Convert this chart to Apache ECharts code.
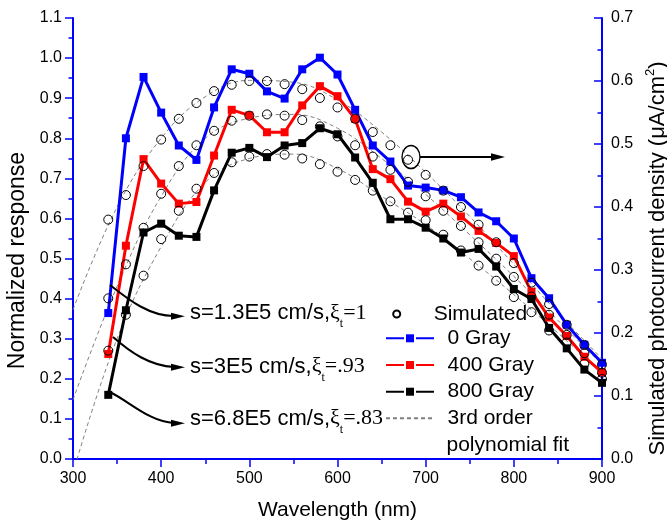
<!DOCTYPE html>
<html>
<head>
<meta charset="utf-8">
<script src="https://cdn.jsdelivr.net/npm/echarts@6/dist/echarts.min.js"></script>
<style>html,body{margin:0;padding:0;background:#fff}#c{width:667px;height:526px}</style>
</head>
<body>
<div id="c"></div>
<script>
// ---- data ----
const wavelengths = [340,360,380,400,420,440,460,480,500,520,540,560,580,600,620,640,660,680,700,720,740,760,780,800,820,840,860,880,900];
// Normalized response (left axis)
const gray0   = [0.364,0.800,0.953,0.864,0.782,0.746,0.877,0.972,0.961,0.917,0.899,0.972,1.001,0.959,0.871,0.782,0.742,0.682,0.677,0.670,0.653,0.615,0.593,0.550,0.451,0.401,0.335,0.285,0.240];
const gray400 = [0.262,0.532,0.748,0.687,0.637,0.641,0.757,0.871,0.857,0.815,0.815,0.882,0.930,0.905,0.848,0.723,0.698,0.642,0.617,0.637,0.605,0.569,0.539,0.506,0.417,0.353,0.307,0.255,0.216];
const gray800 = [0.160,0.371,0.565,0.587,0.557,0.554,0.670,0.764,0.776,0.753,0.782,0.788,0.825,0.810,0.752,0.689,0.598,0.598,0.577,0.550,0.515,0.524,0.480,0.424,0.399,0.327,0.276,0.223,0.190];
// Simulated photocurrent density (right axis, uA/cm2)
const simS1 = [0.380,0.419,0.465,0.507,0.540,0.565,0.584,0.594,0.600,0.600,0.595,0.587,0.573,0.558,0.540,0.519,0.498,0.475,0.451,0.426,0.400,0.372,0.344,0.311,0.280,0.246,0.213,0.181,0.150];
const simS2 = [0.255,0.309,0.367,0.421,0.465,0.498,0.521,0.537,0.545,0.547,0.545,0.538,0.528,0.512,0.498,0.480,0.459,0.440,0.417,0.394,0.370,0.344,0.318,0.289,0.258,0.229,0.197,0.168,0.137];
const simS3 = [0.172,0.229,0.291,0.349,0.394,0.429,0.454,0.471,0.480,0.484,0.483,0.477,0.468,0.456,0.443,0.426,0.409,0.391,0.379,0.356,0.331,0.307,0.283,0.257,0.233,0.204,0.185,0.151,0.127];
// 3rd order polynomial fit curves (right axis)
const fitX  = [300,350,400,450,500,550,600,650,700,750,800,850,900];
const fitS1 = [0.237,0.400,0.509,0.575,0.601,0.598,0.570,0.519,0.455,0.385,0.309,0.232,0.159];
const fitS2 = [0.094,0.274,0.417,0.509,0.541,0.547,0.525,0.477,0.420,0.356,0.290,0.220,0.150];
const fitS3 = [-0.022,0.191,0.337,0.439,0.477,0.484,0.461,0.417,0.372,0.318,0.261,0.200,0.137];
const seriesNames = ['0 Gray','400 Gray','800 Gray'];
const simName = 'Simulated';
const fitName = '3rd order polynomial fit';

// ---- chart ----
const BLUE = '#0000ff';
const SANS = 'Liberation Sans, Arial, sans-serif';
const SERIF = 'Liberation Serif, Times New Roman, serif';
const zip = (xs, ys) => xs.map((x, i) => [x, ys[i]]);
const chart = echarts.init(document.getElementById('c'), null, {renderer: 'canvas'});

const tickLbl = {color: '#000', fontSize: 16, fontFamily: SANS};
const axLine = {show: true, lineStyle: {color: BLUE, width: 2}};

function lineSeries(name, data, color) {
  return {
    name, type: 'line', data: zip(wavelengths, data), xAxisIndex: 0, yAxisIndex: 0,
    symbol: 'rect', symbolSize: 8, showSymbol: true, showAllSymbol: true,
    lineStyle: {color, width: 3}, itemStyle: {color}, z: 3, silent: true
  };
}
function fitSeries(data) {
  return {
    name: fitName, type: 'line', data: zip(fitX, data), xAxisIndex: 0, yAxisIndex: 1,
    smooth: 0.4, symbol: 'none', clip: true,
    lineStyle: {color: '#808080', width: 1, type: [4, 3]}, itemStyle: {color: '#808080'}, z: 2, silent: true
  };
}
function simSeries(data) {
  return {
    name: simName, type: 'scatter', data: zip(wavelengths, data), xAxisIndex: 0, yAxisIndex: 1,
    symbol: 'circle', symbolSize: 9,
    itemStyle: {color: 'rgba(255,255,255,0)', borderColor: '#000', borderWidth: 1, opacity: 1}, z: 4, silent: true
  };
}

function arrow(p0, c1, c2, p3, tip) {
  return [
    {type: 'bezierCurve', shape: {x1: p0[0], y1: p0[1], cpx1: c1[0], cpy1: c1[1], cpx2: c2[0], cpy2: c2[1], x2: p3[0], y2: p3[1]},
     style: {stroke: '#000', lineWidth: 2, fill: 'none'}, z: 10},
    {type: 'polygon', shape: {points: [tip, [tip[0] - 14, tip[1] - 3.5], [tip[0] - 14, tip[1] + 3.5]]},
     style: {fill: '#000'}, z: 10}
  ];
}
const richAnn = {
  a: {fontSize: 22, fontFamily: SANS, lineHeight: 34, color: '#000'},
  g: {fontSize: 22, fontFamily: SERIF, lineHeight: 34, color: '#000'},
  t: {fontSize: 12, fontFamily: SERIF, lineHeight: 12, verticalAlign: 'bottom', color: '#000'}
};
function annText(x, y, s, v) {
  return {type: 'text', x, y, z: 10,
    style: {text: '{a|' + s + '}{g|ξ}{t|t}{g|' + v + '}', rich: richAnn, verticalAlign: 'middle', align: 'left'}};
}
const legText = {fontSize: 21, lineHeight: 21, fontFamily: SANS, color: '#000'};

const option = {
  animation: false,
  backgroundColor: '#fff',
  grid: {left: 73, right: 65, top: 18, bottom: 67, containLabel: false, outerBoundsMode: 'none'},
  legend: [
    {data: [simName], left: 392.2, top: 303.5, padding: 0, itemWidth: 7, itemHeight: 7, selectedMode: false,
     textStyle: Object.assign({padding: [0, 0, 0, 28.5]}, legText)},
    {data: seriesNames, orient: 'vertical', left: 385, top: 327.8, padding: 0, itemWidth: 48, itemHeight: 10, itemGap: 5.7, selectedMode: false,
     lineStyle: {type: [18, 12]},
     textStyle: Object.assign({padding: [0, 0, 0, 8.5]}, legText)},
    {data: [fitName], left: 385, top: 407.8, padding: 0, itemWidth: 48, itemHeight: 10, selectedMode: false,
     itemStyle: {opacity: 0},
     formatter: () => '3rd order',
     textStyle: Object.assign({padding: [0, 0, 0, 8.5]}, legText)}
  ],
  xAxis: [
    {type: 'value', position: 'bottom', min: 300, max: 900, interval: 100,
     name: 'Wavelength (nm)', nameLocation: 'middle', nameGap: 41,
     nameTextStyle: {fontSize: 21, fontFamily: SANS, color: '#000'},
     axisLine: axLine, splitLine: {show: false},
     axisTick: {show: true, inside: false, length: 8, lineStyle: {color: BLUE, width: 1.5}},
     minorTick: {show: true, splitNumber: 2, length: 5, lineStyle: {color: BLUE, width: 1.5}},
     minorSplitLine: {show: false},
     axisLabel: Object.assign({margin: 12}, tickLbl)},
    {type: 'value', position: 'top', min: 300, max: 900, interval: 100,
     axisLine: axLine, splitLine: {show: false},
     axisTick: {show: true, inside: true, length: 8, lineStyle: {color: BLUE, width: 1.5}},
     minorTick: {show: true, splitNumber: 2, length: 5, lineStyle: {color: BLUE, width: 1.5}},
     axisLabel: {show: false}}
  ],
  yAxis: [
    {type: 'value', position: 'left', min: 0, max: 1.1, interval: 0.1,
     name: 'Normalized response', nameLocation: 'middle', nameGap: 44,
     nameTextStyle: {fontSize: 23, fontFamily: SANS, color: '#000', padding: [0, 44, 0, 0]},
     axisLine: axLine, splitLine: {show: false},
     axisTick: {show: true, inside: false, length: 8, lineStyle: {color: BLUE, width: 1.5}},
     minorTick: {show: true, splitNumber: 2, length: 4.5, lineStyle: {color: BLUE, width: 1.5}},
     axisLabel: Object.assign({margin: 11, formatter: v => v.toFixed(1)}, tickLbl)},
    {type: 'value', position: 'right', min: 0, max: 0.7, interval: 0.1,
     name: '{n|Simulated photocurrent density (μA/cm}{s|2}{n|)}', nameLocation: 'middle', nameGap: 42,
     nameTextStyle: {fontSize: 22, fontFamily: SANS, color: '#000', padding: [0, 40, 0, 0],
       rich: {n: {fontSize: 22, fontFamily: SANS, color: '#000', lineHeight: 28},
              s: {fontSize: 13, fontFamily: SANS, color: '#000', lineHeight: 14, verticalAlign: 'top'}}},
     axisLine: axLine, splitLine: {show: false},
     axisTick: {show: true, inside: true, length: 8, lineStyle: {color: BLUE, width: 1.5}},
     minorTick: {show: true, splitNumber: 2, length: 4.5, lineStyle: {color: BLUE, width: 1.5}},
     axisLabel: Object.assign({margin: 9, formatter: v => v.toFixed(1)}, tickLbl)}
  ],
  graphic: [].concat(
    arrow([110, 285], [130, 301], [150, 316], [174, 316], [185, 316.3]),
    arrow([113, 337], [130, 352], [150, 366], [174, 367], [185, 367.3]),
    arrow([110, 392], [130, 402], [150, 422], [174, 423], [185, 423.3]),
    [
      {type: 'circle', x: 411, y: 157, scaleY: 1.28, shape: {cx: 0, cy: 0, r: 9},
       style: {stroke: '#000', fill: 'none', lineWidth: 1.3}, z: 10},
      {type: 'line', shape: {x1: 420, y1: 157, x2: 493, y2: 157}, style: {stroke: '#000', lineWidth: 2}, z: 10},
      {type: 'polygon', shape: {points: [[505, 157], [491, 153.3], [491, 160.7]]}, style: {fill: '#000'}, z: 10},
      annText(190, 313, 's=1.3E5 cm/s,', '=1'),
      annText(190, 366.5, 's=3E5 cm/s,', '=.93'),
      annText(190, 418.5, 's=6.8E5 cm/s,', '=.83'),
      {type: 'text', x: 446.5, y: 445, z: 10,
       style: {text: 'polynomial fit', fontSize: 21, fontFamily: SANS, fill: '#000', verticalAlign: 'middle', align: 'left'}}
    ]
  ),
  series: [
    fitSeries(fitS1), fitSeries(fitS2), fitSeries(fitS3),
    lineSeries(seriesNames[0], gray0, BLUE),
    lineSeries(seriesNames[1], gray400, '#ff0000'),
    lineSeries(seriesNames[2], gray800, '#000000'),
    simSeries(simS1), simSeries(simS2), simSeries(simS3)
  ]
};
chart.setOption(option);
</script>
</body>
</html>
